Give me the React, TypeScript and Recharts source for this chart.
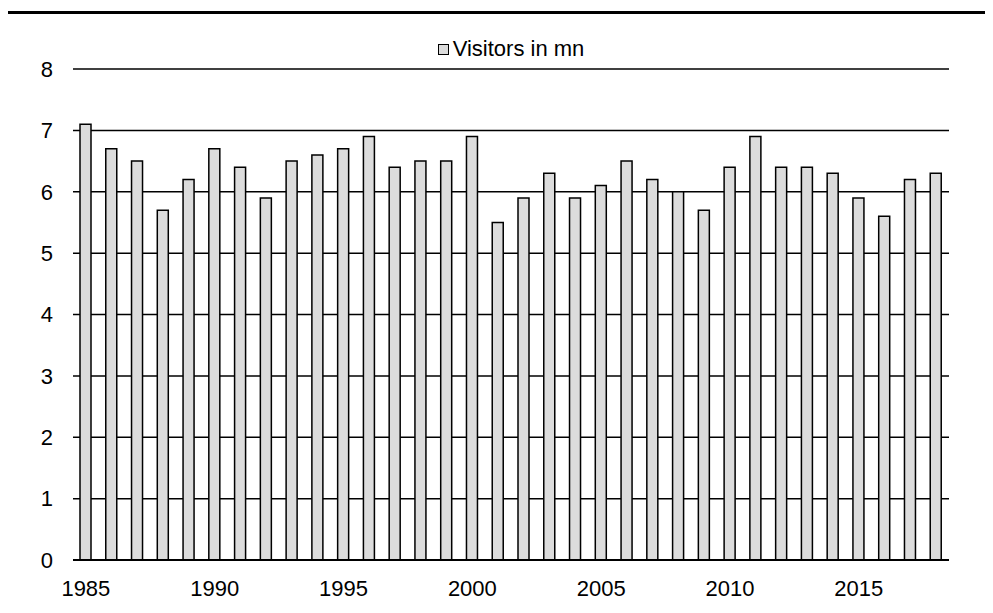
import { Bar, BarChart, CartesianGrid, Legend, XAxis, YAxis } from "recharts";

const years = [
  "1985", "1986", "1987", "1988", "1989", "1990", "1991", "1992", "1993", "1994",
  "1995", "1996", "1997", "1998", "1999", "2000", "2001", "2002", "2003", "2004",
  "2005", "2006", "2007", "2008", "2009", "2010", "2011", "2012", "2013", "2014",
  "2015", "2016", "2017", "2018",
];

const visitors = [
  7.1, 6.7, 6.5, 5.7, 6.2, 6.7, 6.4, 5.9, 6.5, 6.6,
  6.7, 6.9, 6.4, 6.5, 6.5, 6.9, 5.5, 5.9, 6.3, 5.9,
  6.1, 6.5, 6.2, 6.0, 5.7, 6.4, 6.9, 6.4, 6.4, 6.3,
  5.9, 5.6, 6.2, 6.3,
];

const yTicks = [0, 1, 2, 3, 4, 5, 6, 7, 8];

const SERIES_NAME = "Visitors in mn";
const FONT = '"Liberation Sans", Arial, sans-serif';
const BAR_FILL = "#dcdcdc";

const data = years.map((year, i) => ({ year, visitors: visitors[i] }));

function LegendBox() {
  return (
    <div
      style={{
        display: "flex",
        justifyContent: "center",
        alignItems: "center",
        height: 22,
        fontFamily: FONT,
        fontSize: 22,
        lineHeight: "22px",
        color: "#000",
      }}
    >
      <span
        style={{
          display: "inline-block",
          width: 9,
          height: 9,
          background: BAR_FILL,
          border: "1.5px solid #000",
          marginRight: 4,
        }}
      />
      <span>{SERIES_NAME}</span>
    </div>
  );
}

export default function App() {
  return (
    <div
      style={{
        position: "relative",
        margin: -8,
        width: 993,
        height: 613,
        background: "#fff",
        fontFamily: FONT,
        overflow: "hidden",
      }}
    >
      <div
        style={{
          position: "absolute",
          top: 11,
          left: 7,
          right: 0,
          height: 3,
          background: "#000",
        }}
      />
      <BarChart
        width={993}
        height={613}
        data={data}
        margin={{ top: 69, right: 44, bottom: 23, left: 0 }}
      >
        <CartesianGrid vertical={false} stroke="#000" strokeWidth={1.5} />
        <XAxis
          dataKey="year"
          interval={4}
          height={30}
          tickLine={false}
          tickSize={0}
          tickMargin={20}
          axisLine={{ stroke: "#000", strokeWidth: 2 }}
          tick={{ fill: "#000", fontSize: 22, fontFamily: FONT }}
        />
        <YAxis
          domain={[0, 8]}
          ticks={yTicks}
          width={73}
          axisLine={false}
          tickLine={false}
          tickSize={0}
          tickMargin={20}
          tick={{ fill: "#000", fontSize: 22, fontFamily: FONT }}
        />
        <Legend
          verticalAlign="middle"
          align="center"
          wrapperStyle={{ top: 38, left: 73, width: 876, height: 22 }}
          content={() => <LegendBox />}
        />
        <Bar
          dataKey="visitors"
          name={SERIES_NAME}
          fill={BAR_FILL}
          stroke="#000"
          strokeWidth={1.5}
          barSize={11}
          isAnimationActive={false}
        />
      </BarChart>
    </div>
  );
}
